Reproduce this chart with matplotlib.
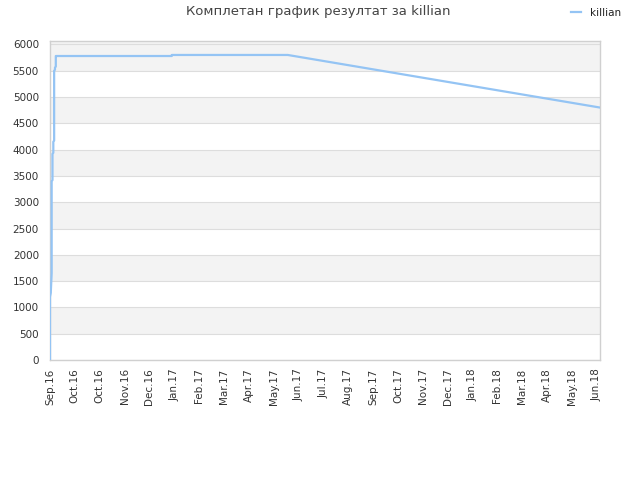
import matplotlib
matplotlib.use("Agg")
import matplotlib.pyplot as plt

# Data (day offsets from 1 Sep 2016, score values)
days = [0, 0, 1, 1, 2, 2, 3, 3, 4, 4, 5, 5, 6, 6, 7, 7, 8, 8, 147, 147, 287, 664]
values = [0, 1200, 1280, 1300, 1650, 3400, 3420, 3920, 3940, 4150, 4170, 5500,
          5520, 5560, 5580, 5780, 5780, 5780, 5780, 5800, 5800, 4800]
tick_labels = ["Sep.16", "Oct.16", "Oct.16", "Nov.16", "Dec.16", "Jan.17", "Feb.17",
               "Mar.17", "Apr.17", "May.17", "Jun.17", "Jul.17", "Aug.17", "Sep.17",
               "Oct.17", "Nov.17", "Dec.17", "Jan.18", "Feb.18", "Mar.18", "Apr.18",
               "May.18", "Jun.18"]
y_ticks = list(range(0, 6001, 500))
series_name = "killian"
title = "Комплетан график резултат за killian"

fig = plt.figure(figsize=(6.4, 4.8), dpi=100)
ax = fig.add_axes([50/640, 120/480, 550/640, 319.5/480])

xmax = 664
ymax = 6075
ax.set_xlim(0, xmax)
ax.set_ylim(0, ymax)

# alternating bands
for i, lo in enumerate(y_ticks):
    hi = lo + 500 if lo + 500 <= 6000 else ymax
    if lo >= 6000:
        hi = ymax
    if (lo // 500) % 2 == 1 or lo >= 6000:
        ax.axhspan(lo, hi, color="#f3f3f3", zorder=0, lw=0)
ax.axhspan(6000, ymax, color="#f3f3f3", zorder=0, lw=0)

for y in y_ticks:
    ax.axhline(y, color="#dddddd", lw=0.8, zorder=1)

ax.plot(days, values, color="#94c4f4", lw=1.6, zorder=3, label=series_name)

ax.set_yticks(y_ticks)
ax.set_yticklabels([str(v) for v in y_ticks])
ax.set_xticks([30 * i for i in range(len(tick_labels))])
ax.set_xticklabels(tick_labels, rotation=90)
ax.tick_params(axis="both", length=0, labelsize=7.5, labelcolor="#333333")
ax.tick_params(axis="y", pad=8)
ax.tick_params(axis="x", pad=6)

for s in ax.spines.values():
    s.set_color("#d0d0d0")
    s.set_linewidth(1)

fig.text(318/640, 1 - 12/480, title, ha="center", va="center", fontsize=9.5, color="#444444")
leg = fig.legend(loc="center", bbox_to_anchor=(596/640, 1 - 13/480), frameon=False,
                 fontsize=7.5, handlelength=1.0, handletextpad=0.8)
for t in leg.get_texts():
    t.set_color("#222222")

fig.savefig("out.png", dpi=100)
